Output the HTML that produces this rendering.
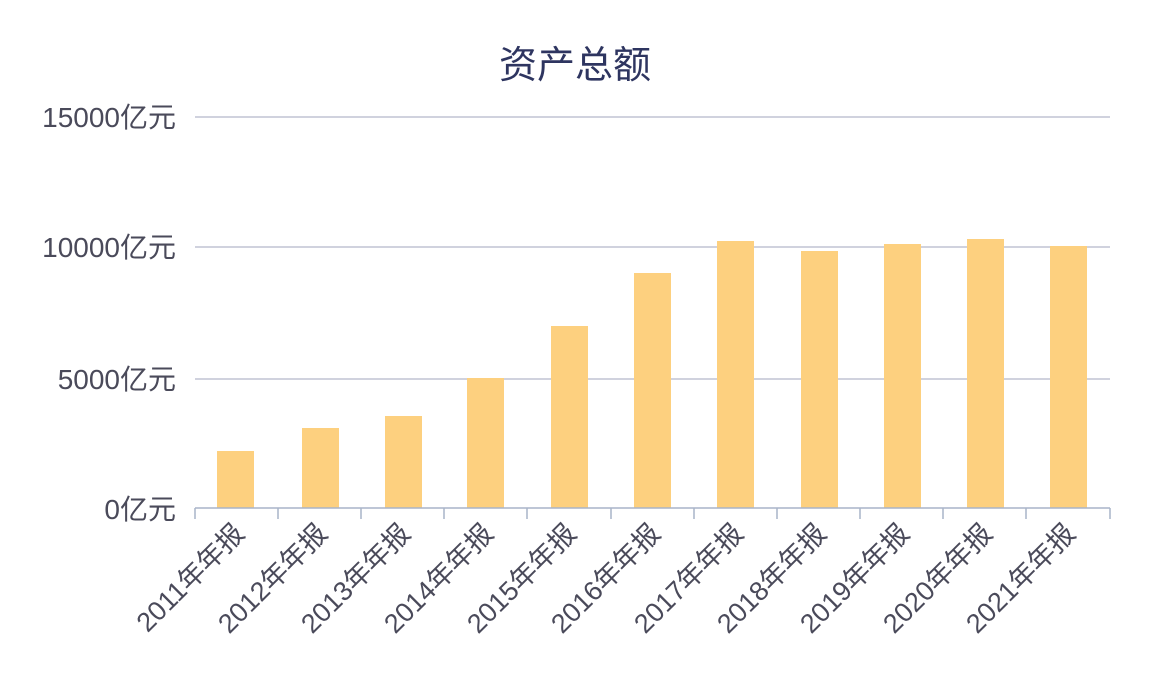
<!DOCTYPE html>
<html><head><meta charset="utf-8"><style>body{margin:0;background:#fff}</style></head>
<body>
<svg width="1160" height="680" xmlns="http://www.w3.org/2000/svg" font-family="Liberation Sans, Noto Sans CJK SC, sans-serif">
<rect width="1160" height="680" fill="#fff"/>
<text x="575" y="78" text-anchor="middle" font-size="38" fill="#2e3560">资产总额</text>
<g stroke="#c0c4d4" stroke-width="1.5">
<line x1="195" y1="117" x2="1110" y2="117"/>
<line x1="195" y1="247" x2="1110" y2="247"/>
<line x1="195" y1="379" x2="1110" y2="379"/>
</g>
<g font-size="28" fill="#4a4a5a" text-anchor="end">
<text x="176" y="127">15000亿元</text>
<text x="176" y="257">10000亿元</text>
<text x="176" y="389">5000亿元</text>
<text x="176" y="519">0亿元</text>
</g>
<g fill="#fdd07f">
<rect x="217" y="451" width="37" height="57"/>
<rect x="302" y="428" width="37" height="80"/>
<rect x="385" y="416" width="37" height="92"/>
<rect x="467" y="378" width="37" height="130"/>
<rect x="551" y="326" width="37" height="182"/>
<rect x="634" y="273" width="37" height="235"/>
<rect x="717" y="241" width="37" height="267"/>
<rect x="801" y="251" width="37" height="257"/>
<rect x="884" y="244" width="37" height="264"/>
<rect x="967" y="239" width="37" height="269"/>
<rect x="1050" y="246" width="37" height="262"/>
</g>
<g stroke="#a8b4c8" stroke-width="1.5">
<line x1="195" y1="508" x2="1110" y2="508"/>
<line x1="195" y1="508" x2="195" y2="519"/>
<line x1="278" y1="508" x2="278" y2="519"/>
<line x1="361" y1="508" x2="361" y2="519"/>
<line x1="444" y1="508" x2="444" y2="519"/>
<line x1="527" y1="508" x2="527" y2="519"/>
<line x1="611" y1="508" x2="611" y2="519"/>
<line x1="694" y1="508" x2="694" y2="519"/>
<line x1="777" y1="508" x2="777" y2="519"/>
<line x1="860" y1="508" x2="860" y2="519"/>
<line x1="943" y1="508" x2="943" y2="519"/>
<line x1="1026" y1="508" x2="1026" y2="519"/>
<line x1="1110" y1="508" x2="1110" y2="519"/>
</g>
<g font-size="27" fill="#4a4a5a" text-anchor="end">
<text transform="translate(246,535) rotate(-45)">2011年年报</text>
<text transform="translate(329,535) rotate(-45)">2012年年报</text>
<text transform="translate(412,535) rotate(-45)">2013年年报</text>
<text transform="translate(495,535) rotate(-45)">2014年年报</text>
<text transform="translate(578,535) rotate(-45)">2015年年报</text>
<text transform="translate(662,535) rotate(-45)">2016年年报</text>
<text transform="translate(745,535) rotate(-45)">2017年年报</text>
<text transform="translate(828,535) rotate(-45)">2018年年报</text>
<text transform="translate(911,535) rotate(-45)">2019年年报</text>
<text transform="translate(994,535) rotate(-45)">2020年年报</text>
<text transform="translate(1077,535) rotate(-45)">2021年年报</text>
</g>
</svg>
</body></html>
